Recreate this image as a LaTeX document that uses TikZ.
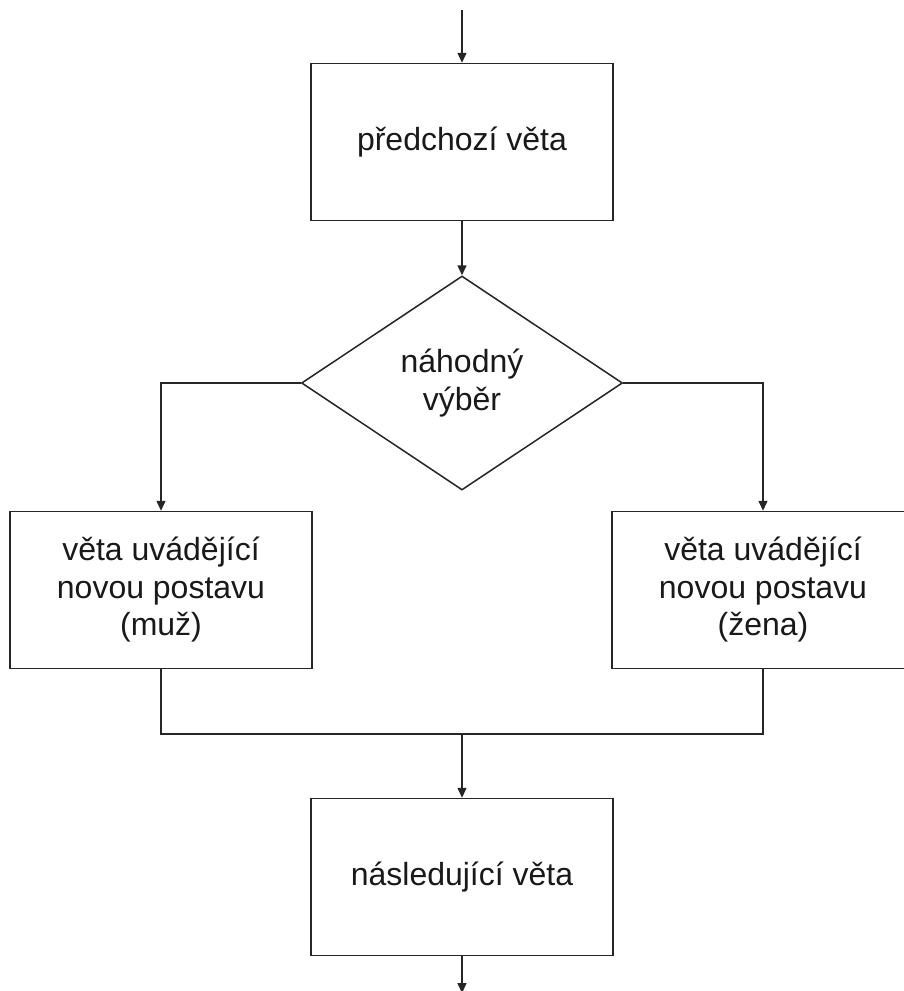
\documentclass[tikz,border=0pt]{standalone}
\usepackage{fontspec}
\setmainfont{Liberation Sans}
\usetikzlibrary{shapes.geometric,arrows.meta}
\begin{document}
\begin{tikzpicture}[x=1pt,y=-1pt,
  line width=1.5pt,
  every node/.style={font=\fontsize{32}{37.5}\selectfont, text=black!90},
  boxnode/.style={draw=black!85, rectangle, minimum width=302pt, minimum height=157pt, inner sep=0pt, align=center},
  choicenode/.style={draw=black!85, diamond, minimum width=321pt, minimum height=214pt, inner sep=0pt, align=center},
  arr/.style={draw=black!85, -{Triangle[width=9pt,length=10pt]}},
  ln/.style={draw=black!85}]
\clip (0,0) rectangle (904,991);
\useasboundingbox (0,0) rectangle (904,991);
\fill[white] (0,0) rectangle (904,991);
\node[boxnode] (prev) at (462,142) {předchozí věta};
\node[choicenode] (choice) at (462,383) {náhodný\\výběr};
\node[boxnode] (man) at (161,590) {věta uvádějící\\novou postavu\\(muž)};
\node[boxnode] (woman) at (763,590) {věta uvádějící\\novou postavu\\(žena)};
\node[boxnode] (next) at (462,877) {následující věta};
\coordinate (topin) at (462,10);
\coordinate (botout) at (462,993);
\coordinate (join) at (462,734);
\draw[arr] (topin) -- (prev);
\draw[arr] (prev) -- (choice);
\draw[arr] (choice.west) -| (man.north);
\draw[arr] (choice.east) -| (woman.north);
\draw[ln] (man.south) |- (join) -| (woman.south);
\draw[arr] (join) -- (next);
\draw[arr] (next) -- (botout);
\end{tikzpicture}
\end{document}
